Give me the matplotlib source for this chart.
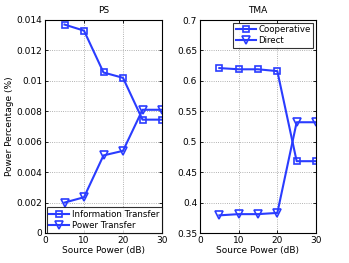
import matplotlib
matplotlib.use('Agg')
import matplotlib.pyplot as plt

snr = [5, 10, 15, 20, 25, 30]
ps_info = [0.0137, 0.0133, 0.01055, 0.0102, 0.00745, 0.00745]
ps_power = [0.0020, 0.00235, 0.0051, 0.0054, 0.0081, 0.0081]
tma_coop = [0.621, 0.619, 0.619, 0.616, 0.468, 0.468]
tma_direct = [0.379, 0.381, 0.381, 0.383, 0.532, 0.532]

blue = '#2a3cff'
plt.rcParams['font.size'] = 6.5

fig = plt.figure(figsize=(3.49, 2.63), dpi=100)
ax1 = fig.add_axes([45/349, 30/263, 117/349, 213/263])
ax2 = fig.add_axes([200/349, 30/263, 116/349, 213/263])

ax1.plot(snr, ps_info, color=blue, lw=1.5, marker='s', ms=5, mfc='none', mew=1.2, label='Information Transfer')
ax1.plot(snr, ps_power, color=blue, lw=1.5, marker='v', ms=6, mfc='none', mew=1.2, label='Power Transfer')
ax1.set_xlim(0, 30)
ax1.set_ylim(0, 0.014)
ax1.set_xticks([0, 10, 20, 30])
ax1.set_yticks([0, 0.002, 0.004, 0.006, 0.008, 0.01, 0.012, 0.014])
ax1.set_yticklabels(['0', '0.002', '0.004', '0.006', '0.008', '0.01', '0.012', '0.014'])
ax1.set_title('PS', fontsize=6.5, pad=5)
ax1.set_xlabel('Source Power (dB)', labelpad=1)
ax1.set_ylabel('Power Percentage (%)', labelpad=2)
leg1 = ax1.legend(loc='lower right', fancybox=False, edgecolor='black', borderaxespad=0.05,
                  handlelength=2.3, borderpad=0.3, labelspacing=0.25, handletextpad=0.3,
                  fontsize=6.2)
leg1.get_frame().set_linewidth(0.8)

ax2.plot(snr, tma_coop, color=blue, lw=1.5, marker='s', ms=5, mfc='none', mew=1.2, label='Cooperative')
ax2.plot(snr, tma_direct, color=blue, lw=1.5, marker='v', ms=6, mfc='none', mew=1.2, label='Direct')
ax2.set_xlim(0, 30)
ax2.set_ylim(0.35, 0.7)
ax2.set_xticks([0, 10, 20, 30])
ax2.set_yticks([0.35, 0.4, 0.45, 0.5, 0.55, 0.6, 0.65, 0.7])
ax2.set_yticklabels(['0.35', '0.4', '0.45', '0.5', '0.55', '0.6', '0.65', '0.7'])
ax2.set_title('TMA', fontsize=6.5, pad=5)
ax2.set_xlabel('Source Power (dB)', labelpad=1)
leg2 = ax2.legend(loc='upper right', fancybox=False, edgecolor='black', borderaxespad=0.3,
                  handlelength=2.3, borderpad=0.3, labelspacing=0.25, handletextpad=0.3,
                  fontsize=6.2)
leg2.get_frame().set_linewidth(0.8)

for ax in (ax1, ax2):
    ax.grid(True, ls=':', color='#999999', lw=0.6)
    ax.tick_params(direction='in', length=2, width=0.6, pad=2, top=True, right=True)
    for s in ax.spines.values():
        s.set_linewidth(0.8)

fig.savefig('out.png', dpi=100)
